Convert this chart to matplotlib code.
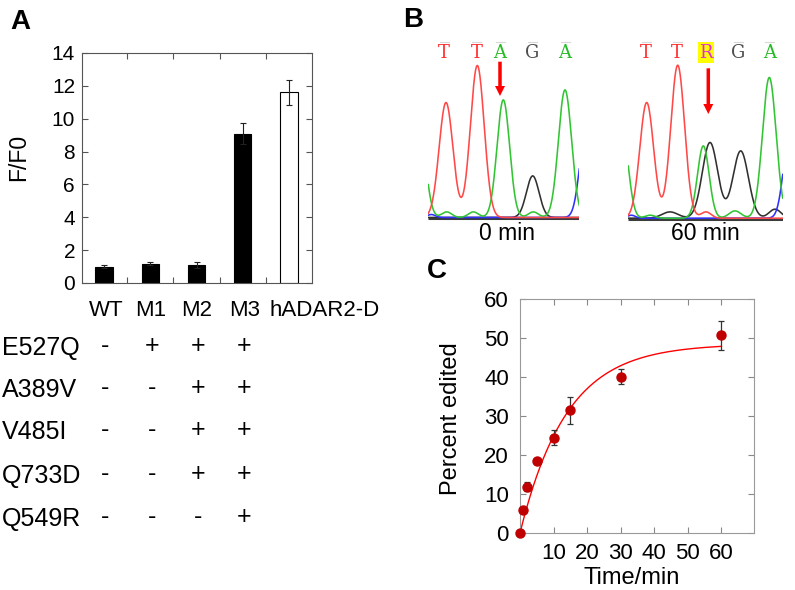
import numpy as np
import matplotlib
matplotlib.use('Agg')
import matplotlib.pyplot as plt
import matplotlib.transforms as mtransforms
from matplotlib.patches import FancyArrow

plt.rcParams['font.family'] = ['Liberation Sans', 'DejaVu Sans']

# ---------------- Panel A data ----------------
variants = ['WT', 'M1', 'M2', 'M3', 'hADAR2-D']
ff0 = [1.0, 1.17, 1.08, 9.1, 11.6]
ff0_err = [0.1, 0.1, 0.18, 0.65, 0.78]
bar_colors = ['black', 'black', 'black', 'black', 'white']
mutations = ['E527Q', 'A389V', 'V485I', 'Q733D', 'Q549R']
mut_table = [['-', '+', '+', '+'],
             ['-', '-', '+', '+'],
             ['-', '-', '+', '+'],
             ['-', '-', '+', '+'],
             ['-', '-', '-', '+']]

# ---------------- Panel C data ----------------
time_min = [0, 1, 2, 5, 10, 15, 30, 60]
pct_edited = [0.1, 5.9, 11.9, 18.5, 24.4, 31.5, 40.1, 50.7]
pct_err = [0.0, 0.0, 1.1, 0.4, 1.9, 3.5, 2.0, 3.7]
fit_amp = 48.5      # fitted plateau (%)
fit_rate = 0.072    # fitted rate (1/min)

# ---------------- Panel B data (chromatogram peaks: centre, height, width) ----------------
bases_0 = ['T', 'T', 'A', 'G', 'A']
bases_0_pos = [15.7, 48.4, 71.7, 104.0, 136.7]
red_0 = dict(c=[17.7, 49.0], h=[115, 152], w=[6.9, 6.9])
green_0 = dict(c=[-8, 18.4, 45, 75, 105, 136.7], h=[80, 5.6, 5.6, 117.6, 5.6, 127.6], w=[6, 5, 5, 6.3, 5, 6.6])
black_0 = dict(c=[104.4], h=[41.6], w=[6.3])
blue_0 = dict(c=[157, 3], h=[80, 3], w=[6, 4])

bases_60 = ['T', 'T', 'R', 'G', 'A']
bases_60_pos = [17.7, 49.0, 77.7, 110.0, 141.0]
red_60 = dict(c=[18.4, 49.4, 77.7], h=[115.7, 153, 6.3], w=[6.9, 6.9, 5])
green_60 = dict(c=[-6, 22, 75, 106.7, 141], h=[86, 3, 72.3, 7.3, 140.7], w=[6, 5, 5.8, 6, 6.8])
black_60 = dict(c=[41.7, 81.7, 112.4, 146.7], h=[6.3, 75.7, 67.3, 9], w=[8, 7.7, 7.7, 6])
blue_60 = dict(c=[161, 3], h=[80, 3], w=[6, 4])

W, H = 795, 590
fig = plt.figure(figsize=(W / 100, H / 100), dpi=100)


def fig_rect(l, t, r, b):
    return [l / W, 1 - b / H, (r - l) / W, (b - t) / H]


def fx(px):
    return px / W


def fy(py):
    return 1 - py / H


# ================= Panel A =================
axA = fig.add_axes(fig_rect(82, 53, 312, 283))
xpos = np.arange(len(variants))
axA.bar(xpos, ff0, width=0.37, color=bar_colors, edgecolor='black', linewidth=0.8, zorder=2)
axA.errorbar(xpos, ff0, yerr=ff0_err, fmt='none', ecolor='#222222', elinewidth=0.8,
             capsize=2.5, capthick=0.8, zorder=3)
axA.set_xlim(-0.476, 4.497)
axA.set_ylim(0, 14)
axA.set_yticks(np.arange(0, 15, 2))
axA.set_xticks(xpos[:-1] + 0.5)
axA.tick_params(axis='both', direction='in', top=True, right=True, length=4, width=0.8,
                color='#555555', labelsize=15, pad=5)
axA.tick_params(axis='x', labelbottom=False)
for s in axA.spines.values():
    s.set_color('#555555')
    s.set_linewidth(0.8)
fig.text(fx(19), fy(157), 'F/F0', rotation=90, ha='center', va='center', fontsize=16.5)

# table under panel A
blend = mtransforms.blended_transform_factory(axA.transData, fig.transFigure)
header_x = [0.04, 1.0, 2.0, 3.04, 4.77]
for lab, hx in zip(variants, header_x):
    axA.text(hx, fy(310), lab, transform=blend, ha='center', va='center', fontsize=16, clip_on=False)
row_y = [348, 390, 432, 476, 519]
for r, (mut, ry) in enumerate(zip(mutations, row_y)):
    fig.text(fx(2), fy(ry), mut, ha='left', va='center', fontsize=18)
    for c, sign in enumerate(mut_table[r]):
        axA.text(xpos[c] + 0.03, fy(ry - 2), sign, transform=blend, ha='center', va='center',
                 fontsize=18, clip_on=False)

# ================= Panel B =================
col_red = '#ff4848'
col_green = '#33c433'
col_black = '#303030'
col_blue = '#3030ff'
letter_col = {'T': '#ff3030', 'A': '#22bb22', 'G': '#505050', 'R': '#e030e0'}


def trace(xg, pk):
    y = np.zeros_like(xg)
    for c, h, w in zip(pk['c'], pk['h'], pk['w']):
        y += h * np.exp(-0.5 * ((xg - c) / w) ** 2)
    return y


def chromatogram(rect, xmax, ymax, red, green, black, blue, bases, bpos, arrow, label, label_xy):
    ax = fig.add_axes(rect)
    xg = np.linspace(0, xmax, 600)
    ax.plot([0, xmax], [0, 0], color='#3c3c3c', lw=2.2, zorder=1, solid_capstyle='butt')
    for pk, col in ((black, col_black), (blue, col_blue), (green, col_green), (red, col_red)):
        ax.plot(xg, trace(xg, pk) + 0.8, color=col, lw=1.15, zorder=2)
    for b, p in zip(bases, bpos):
        kw = {}
        if b == 'R':
            kw['bbox'] = dict(boxstyle='square,pad=0.08', fc='#ffff00', ec='none')
        ax.text(p, ymax - 22.5, b, color=letter_col[b], ha='center', va='center',
                fontsize=13, family='DejaVu Serif', clip_on=False, **kw)
        ax.plot([p - 4.5, p + 4.5], [ymax - 11.5, ymax - 11.5], color='#d8d8d8', lw=0.8, clip_on=False)
    ax.add_patch(FancyArrow(arrow[0], arrow[1], 0, arrow[2] - arrow[1], width=3.5,
                            head_width=10, head_length=10, length_includes_head=True,
                            color='#ff0000', ec='none', zorder=4))
    ax.set_xlim(0, xmax)
    ax.set_ylim(-3, ymax)
    ax.axis('off')
    fig.text(fx(label_xy[0]), fy(label_xy[1]), label, ha='center', va='center', fontsize=16.5)
    return ax


chromatogram(fig_rect(428.3, 30.3, 579.3, 221.3), 151.0, 188.0, red_0, green_0, black_0, blue_0,
             bases_0, bases_0_pos, (71.7, 156.6, 122.3), '0 min', (507.3, 233))
chromatogram(fig_rect(628.3, 30.0, 782.7, 222.0), 154.4, 189.0, red_60, green_60, black_60, blue_60,
             bases_60, bases_60_pos, (80.0, 150.7, 105.0), '60 min', (705, 233))

# ================= Panel C =================
axC = fig.add_axes(fig_rect(520, 299, 754, 533))
tfit = np.linspace(0, 60, 300)
axC.plot(tfit, fit_amp * (1 - np.exp(-fit_rate * tfit)), color='#ff0000', lw=1.0, zorder=2)
axC.errorbar(time_min, pct_edited, yerr=pct_err, fmt='none', ecolor='#333333', elinewidth=0.9,
             capsize=2, capthick=0.9, zorder=3)
axC.plot(time_min, pct_edited, 'o', color='#c00000', ms=6.5, mec='#c00000', zorder=4, clip_on=False)
axC.set_xlim(0, 69.7)
axC.set_ylim(0, 60)
axC.set_xticks([10, 20, 30, 40, 50, 60])
axC.set_yticks(np.arange(0, 61, 10))
axC.tick_params(axis='both', direction='in', top=True, right=True, length=4, width=0.8,
                color='#888888', labelsize=16)
axC.tick_params(axis='y', pad=8)
axC.tick_params(axis='x', pad=7)
for s in axC.spines.values():
    s.set_color('#999999')
    s.set_linewidth(0.8)
fig.text(fx(451), fy(419), 'Percent edited', rotation=90, ha='center', va='center', fontsize=17)
fig.text(fx(632), fy(578), 'Time/min', ha='center', va='center', fontsize=17)

# panel letters
fig.text(fx(20), fy(22), 'A', ha='center', va='center', fontsize=20, fontweight='bold')
fig.text(fx(413), fy(20), 'B', ha='center', va='center', fontsize=20, fontweight='bold')
fig.text(fx(437), fy(271), 'C', ha='center', va='center', fontsize=20, fontweight='bold')

fig.savefig('out.png', dpi=100)
